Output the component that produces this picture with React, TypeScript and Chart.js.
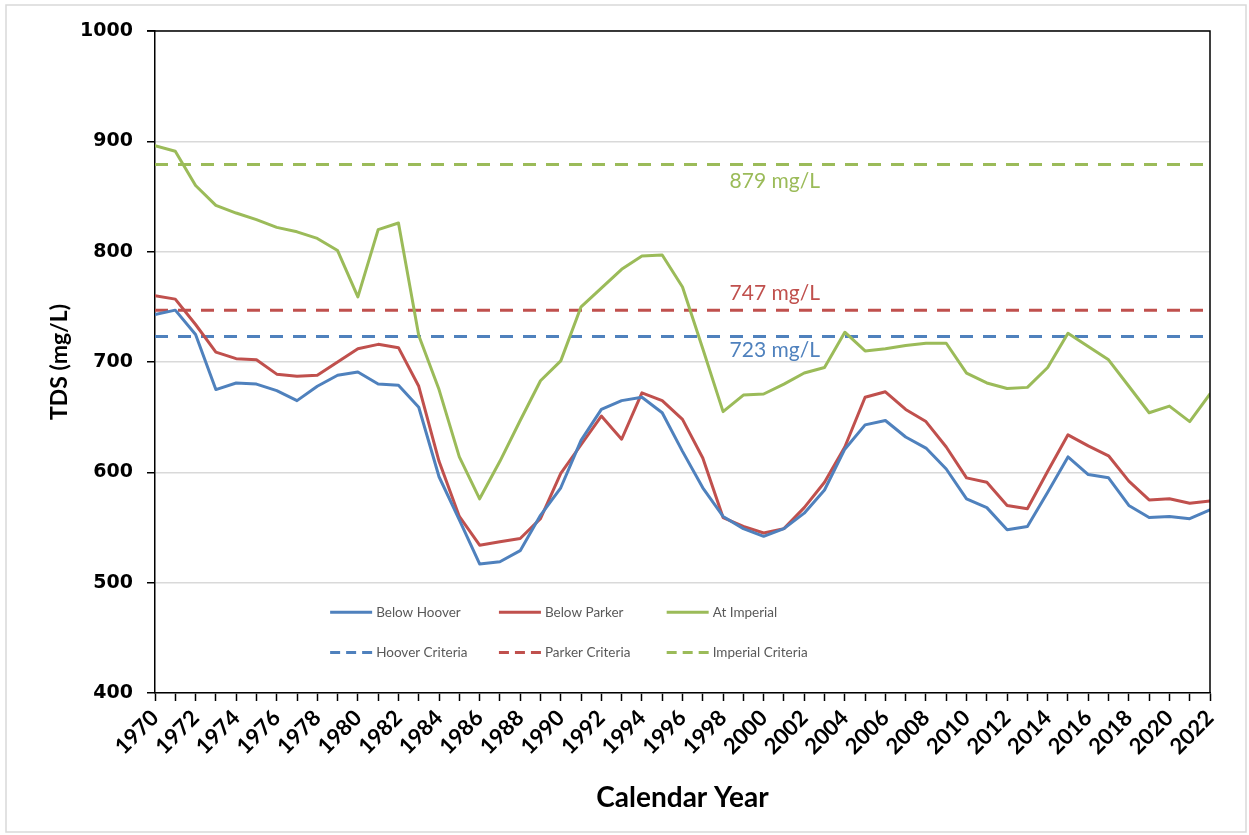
import React, { useEffect, useRef } from 'react';
import { Chart, registerables } from 'chart.js';

Chart.register(...registerables);

const years = [
  1970, 1971, 1972, 1973, 1974, 1975, 1976, 1977, 1978, 1979,
  1980, 1981, 1982, 1983, 1984, 1985, 1986, 1987, 1988, 1989,
  1990, 1991, 1992, 1993, 1994, 1995, 1996, 1997, 1998, 1999,
  2000, 2001, 2002, 2003, 2004, 2005, 2006, 2007, 2008, 2009,
  2010, 2011, 2012, 2013, 2014, 2015, 2016, 2017, 2018, 2019,
  2020, 2021, 2022,
];

const belowHoover = [
  743, 747, 725, 675, 681, 680, 674, 665, 678, 688,
  691, 680, 679, 659, 596, 557, 517, 519, 529, 561,
  586, 629, 657, 665, 668, 654, 619, 586, 560, 549,
  542, 549, 563, 584, 621, 643, 647, 632, 622, 603,
  576, 568, 548, 551, 582, 614, 598, 595, 570, 559,
  560, 558, 566,
];

const belowParker = [
  760, 757, 734, 709, 703, 702, 689, 687, 688, 700,
  712, 716, 713, 678, 610, 560, 534, 537, 540, 558,
  599, 625, 651, 630, 672, 665, 648, 613, 559, 551,
  545, 549, 568, 591, 623, 668, 673, 657, 646, 623,
  595, 591, 570, 567, 601, 634, 624, 615, 592, 575,
  576, 572, 574,
];

const atImperial = [
  896, 891, 860, 842, 835, 829, 822, 818, 812, 801,
  759, 820, 826, 724, 675, 614, 576, 610, 647, 683,
  701, 750, 767, 784, 796, 797, 768, 712, 655, 670,
  671, 680, 690, 695, 727, 710, 712, 715, 717, 717,
  690, 681, 676, 677, 695, 726, 714, 702, 678, 654,
  660, 646, 671,
];

const criteriaNames = ['Hoover Criteria', 'Parker Criteria', 'Imperial Criteria'];
const criteriaValues = [723, 747, 879];
const criteriaLabels = ['723 mg/L', '747 mg/L', '879 mg/L'];
const seriesNames = ['Below Hoover', 'Below Parker', 'At Imperial'];
const yTickValues = [400, 500, 600, 700, 800, 900, 1000];

const COLORS = ['#4F81BD', '#C0504D', '#9BBB59'];
const DASH = [13, 10];

const decorPlugin = {
  id: 'decor',
  beforeDraw(chart: any) {
    const { ctx, width, height } = chart;
    ctx.save();
    ctx.fillStyle = '#ffffff';
    ctx.fillRect(0, 0, width, height);
    ctx.strokeStyle = '#d9d9d9';
    ctx.lineWidth = 1.5;
    ctx.strokeRect(6, 5, width - 9, height - 8);
    ctx.restore();
  },
  afterDraw(chart: any) {
    const { ctx, chartArea: a, scales } = chart;
    ctx.save();
    // plot frame (top & right)
    ctx.strokeStyle = '#000';
    ctx.lineWidth = 1.5;
    ctx.beginPath();
    ctx.moveTo(a.left - 8, a.top);
    ctx.lineTo(a.right, a.top);
    ctx.lineTo(a.right, a.bottom);
    ctx.stroke();

    // criteria labels
    const labelYear = 2000.55;
    const offsets = [-12.3, 15.5, -15];
    ctx.font = '21px Lato';
    ctx.textAlign = 'center';
    ctx.textBaseline = 'middle';
    criteriaValues.forEach((v, i) => {
      ctx.fillStyle = COLORS[i];
      ctx.fillText(
        criteriaLabels[i],
        scales.x.getPixelForValue(labelYear),
        scales.y.getPixelForValue(v + offsets[i])
      );
    });

    // legend (2 rows x 3 columns inside plot area)
    const colFrac = [0.166, 0.326, 0.485];
    const rowFrac = [0.878, 0.939];
    const w = a.right - a.left;
    const h = a.bottom - a.top;
    ctx.font = '13.5px Lato';
    ctx.textAlign = 'left';
    ctx.fillStyle = '#595959';
    const ds = chart.data.datasets;
    for (let r = 0; r < 2; r++) {
      for (let c = 0; c < 3; c++) {
        const d = ds[r * 3 + c];
        const x = a.left + colFrac[c] * w;
        const y = a.top + rowFrac[r] * h;
        ctx.strokeStyle = d.borderColor;
        ctx.lineWidth = 3;
        ctx.setLineDash(r === 1 ? [10, 6] : []);
        ctx.beginPath();
        ctx.moveTo(x, y);
        ctx.lineTo(x + 42, y);
        ctx.stroke();
        ctx.setLineDash([]);
        ctx.fillText(d.label, x + 46, y);
      }
    }
    ctx.restore();
  },
};

export default function App() {
  const ref = useRef<HTMLCanvasElement | null>(null);

  useEffect(() => {
    if (!ref.current) return;
    const mk = (arr: number[]) => years.map((yr, i) => ({ x: yr, y: arr[i] }));
    const seriesData = [belowHoover, belowParker, atImperial];
    const datasets: any[] = [];
    seriesNames.forEach((name, i) => {
      datasets.push({
        label: name,
        data: mk(seriesData[i]),
        borderColor: COLORS[i],
        backgroundColor: COLORS[i],
        borderWidth: 3,
        pointRadius: 0,
        borderJoinStyle: 'round',
        borderCapStyle: 'round',
        order: 1,
      });
    });
    criteriaNames.forEach((name, i) => {
      datasets.push({
        label: name,
        data: [
          { x: years[0], y: criteriaValues[i] },
          { x: years[years.length - 1], y: criteriaValues[i] },
        ],
        borderColor: COLORS[i],
        backgroundColor: COLORS[i],
        borderWidth: 3,
        borderDash: DASH,
        pointRadius: 0,
        order: 2,
      });
    });

    const chart = new Chart(ref.current, {
      type: 'line',
      data: { datasets },
      options: {
        animation: false,
        responsive: false,
        layout: { padding: { top: 31, right: 39, left: 0, bottom: 0 } },
        plugins: { legend: { display: false }, tooltip: { enabled: false } },
        scales: {
          x: {
            type: 'linear',
            min: years[0],
            max: years[years.length - 1],
            afterFit: (s: any) => { s.height = 142; },
            afterBuildTicks: (s: any) => { s.ticks = years.map((v) => ({ value: v })); },
            ticks: {
              autoSkip: false,
              maxRotation: 45,
              minRotation: 45,
              padding: 4,
              color: '#000',
              font: { family: 'Lato', weight: 'bold', size: 22 },
              callback: (v: any) => (Number(v) % 2 === 0 ? String(v) : ''),
            },
            grid: { drawOnChartArea: false, drawTicks: true, tickLength: 8, tickColor: '#000', tickWidth: 1.5 },
            border: { color: '#000', width: 1.5 },
            title: {
              display: true,
              text: 'Calendar Year',
              color: '#000',
              font: { family: 'Lato', weight: 'bold', size: 28 },
              padding: { top: 0, bottom: 20 },
            },
          },
          y: {
            type: 'linear',
            min: 400,
            max: 1000,
            afterFit: (s: any) => { s.width = 155; },
            afterBuildTicks: (s: any) => { s.ticks = yTickValues.map((v) => ({ value: v })); },
            ticks: {
              padding: 14,
              color: '#000',
              font: { family: 'DejaVu Sans', weight: 'bold', size: 19 },
              callback: (v: any) => String(v),
            },
            grid: { color: '#d9d9d9', lineWidth: 1.5, tickLength: 8, tickColor: '#000', tickWidth: 1.5 },
            border: { color: '#000', width: 1.5 },
            title: {
              display: true,
              text: 'TDS (mg/L)',
              color: '#000',
              font: { family: 'Lato', weight: 'bold', size: 23 },
              padding: { top: 46, bottom: 0 },
            },
          },
        },
      },
      plugins: [decorPlugin],
    });
    return () => chart.destroy();
  }, []);

  return (
    <div style={{ position: 'absolute', left: 0, top: 0, width: 1249, height: 835 }}>
      <canvas ref={ref} width={1249} height={835} style={{ width: 1249, height: 835, display: 'block' }} />
    </div>
  );
}
